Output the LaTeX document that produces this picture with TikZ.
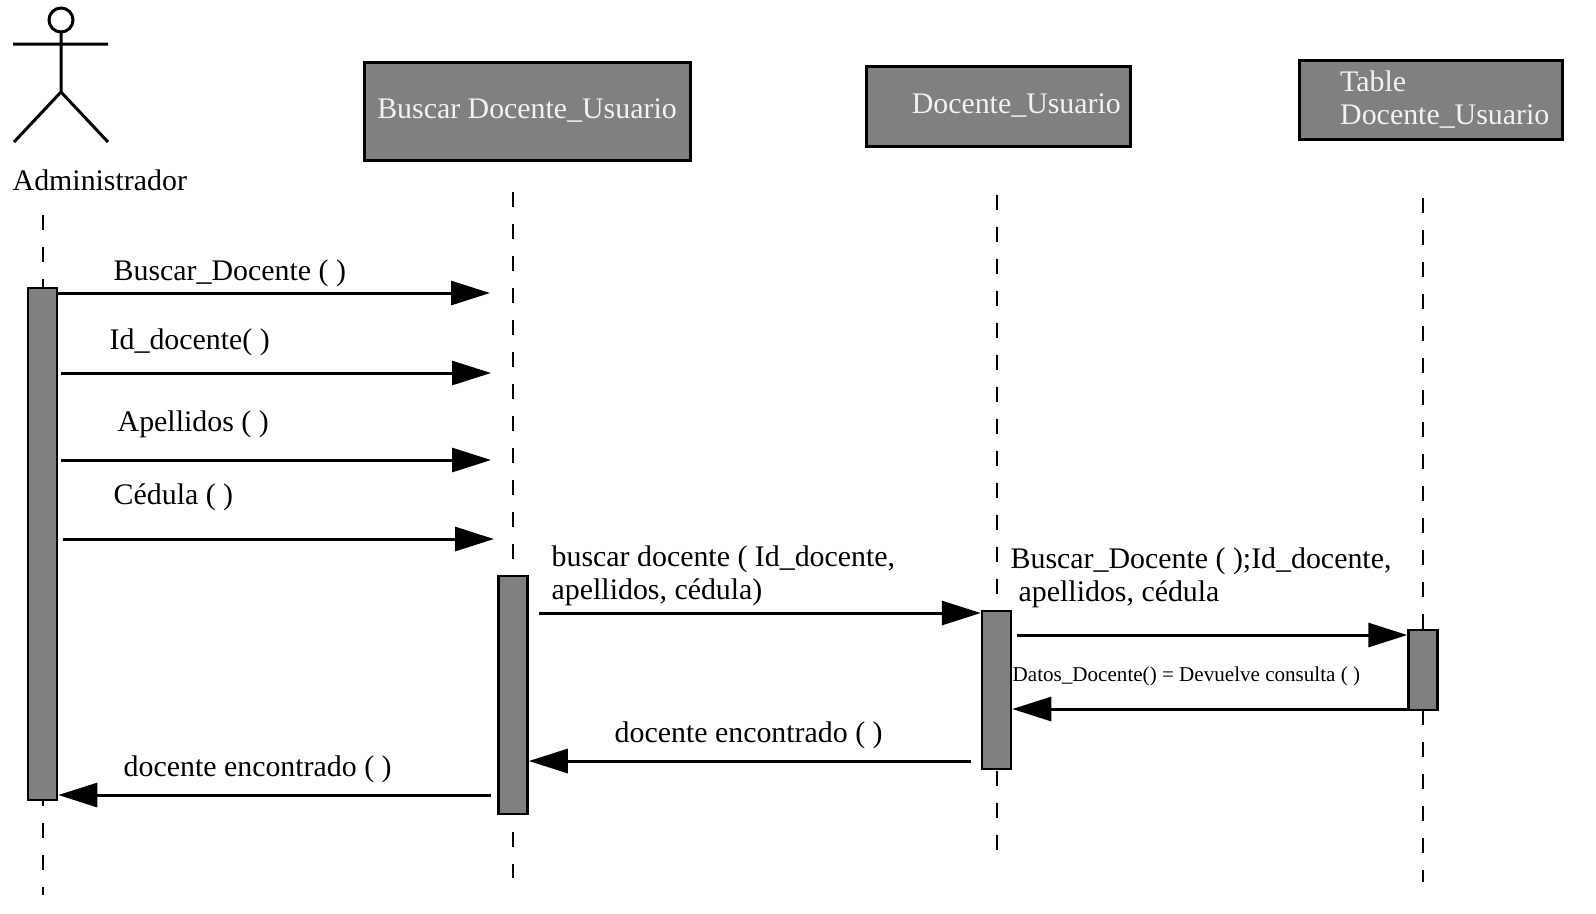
\documentclass[tikz,border=0pt]{standalone}
\usepackage{fontspec}
\setmainfont{Liberation Serif}
\usetikzlibrary{arrows.meta}
\definecolor{box-color}{RGB}{128, 128, 128}
\definecolor{label-color}{RGB}{242, 242, 242}

\begin{document}
\begin{tikzpicture}[x=0.1mm, y=-0.1mm, font=\fontsize{8.5}{9.2}\selectfont,
  lifeline/.style={dash pattern=on 1.5mm off 1.7mm, line width=0.2mm},
  objbox/.style={rectangle, draw, line width=0.3mm, fill=box-color, text=label-color, inner sep=0pt},
  activation/.style={rectangle, draw, line width=0.25mm, fill=box-color, minimum width=2.9mm, inner sep=0pt},
  msg/.style={-{Triangle[length=3.9mm, width=2.4mm]}, line width=0.3mm},
  lbl/.style={anchor=base west, inner sep=0pt, align=left}]
\useasboundingbox (0,0) rectangle (1596,913);

% actor
\draw[line width=0.3mm] (61,20) circle [radius=1.2mm];
\draw[line width=0.3mm] (61,32) -- (61,92) (13,44) -- (108,44) (14,142) -- (61,92) -- (108,142);
\node (admin) [lbl] at (12,190) {Administrador};

% objects
\node (buscar) [objbox, minimum width=32.6mm, minimum height=9.8mm] at (527,111) {Buscar Docente\_Usuario};
\node (docente) [objbox, minimum width=26.4mm, minimum height=8mm] at (998,106) {};
\node (docente-txt) [anchor=east, inner sep=0pt, text=label-color] at ([xshift=-1mm]docente.east) {Docente\_Usuario};
\node (tabla) [objbox, minimum width=26.3mm, minimum height=7.9mm] at (1430.5,99.5) {};
\node (tabla-txt) [anchor=west, inner sep=0pt, align=left, text=label-color] at ([xshift=4.2mm]tabla.west) {Table\\Docente\_Usuario};

% lifelines
\draw[lifeline] (43,215) -- (43,895);
\draw[lifeline] (513,192) -- (513,878);
\draw[lifeline] (997,195) -- (997,865);
\draw[lifeline] (1423,198) -- (1423,882);

% activations
\node (act-admin) [activation, minimum height=51.2mm] at (42.5,544) {};
\node (act-buscar) [activation, minimum height=23.8mm] at (513,695) {};
\node (act-docente) [activation, minimum height=15.8mm] at (996.5,690) {};
\node (act-tabla) [activation, minimum height=8mm] at (1423,670) {};

% free ends
\coordinate (end-1) at (490,293);
\coordinate (end-2) at (491,373);
\coordinate (end-3) at (491,460);
\coordinate (end-4) at (494,539);
\coordinate (start-5) at (539,613);
\coordinate (start-6) at (1017,635);
\coordinate (start-8) at (971,761);
\coordinate (start-9) at (491,795);

% messages
\draw[msg] (act-admin.east |- end-1) -- (end-1);
\draw[msg] ([xshift=0.3mm]act-admin.east |- end-2) -- (end-2);
\draw[msg] ([xshift=0.3mm]act-admin.east |- end-3) -- (end-3);
\draw[msg] ([xshift=0.5mm]act-admin.east |- end-4) -- (end-4);
\draw[msg] (start-5) -- (act-docente.west |- start-5);
\draw[msg] (start-6) -- (act-tabla.west |- start-6);
\draw[msg] (act-tabla.west |- 0,709) -- (act-docente.east |- 0,709);
\draw[msg] (start-8) -- (act-buscar.east |- start-8);
\draw[msg] (start-9) -- (act-admin.east |- start-9);

% labels (base = last line)
\node (lbl-1) [lbl] at (113,280) {Buscar\_Docente ( )};
\node (lbl-2) [lbl] at (109,349) {Id\_docente( )};
\node (lbl-3) [lbl] at (117,431) {Apellidos ( )};
\node (lbl-4) [lbl] at (113,504) {Cédula ( )};
\node (lbl-5) [lbl] at (551,599) {buscar docente ( Id\_docente,\\apellidos, cédula)};
\node (lbl-6) [lbl] at (1010,601) {Buscar\_Docente ( );Id\_docente,\\\hspace*{0.8mm}apellidos, cédula};
\node (lbl-7) [lbl, font=\fontsize{6}{7}\selectfont] at (1012,681) {Datos\_Docente() = Devuelve consulta ( )};
\node (lbl-8) [lbl] at (614,742) {docente encontrado ( )};
\node (lbl-9) [lbl] at (123,776) {docente encontrado ( )};
\end{tikzpicture}
\end{document}
